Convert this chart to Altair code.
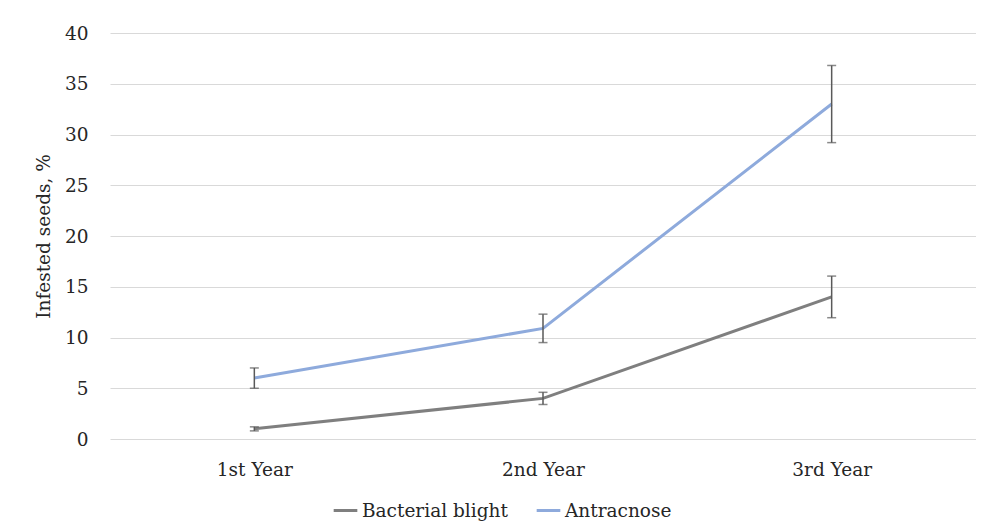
import altair as alt
import pandas as pd

years = ["1st Year", "2nd Year", "3rd Year"]
series = ["Bacterial blight", "Antracnose"]
blight = [1.0, 4.0, 14.0]
blight_err = [0.2, 0.6, 2.05]
antra = [6.0, 10.9, 33.0]
antra_err = [1.0, 1.4, 3.8]

rows = []
for y, v, e in zip(years, blight, blight_err):
    rows.append({"year": y, "series": series[0], "value": v, "lo": v - e, "hi": v + e})
for y, v, e in zip(years, antra, antra_err):
    rows.append({"year": y, "series": series[1], "value": v, "lo": v - e, "hi": v + e})
df = pd.DataFrame(rows)

FONT = "DejaVu Serif"
FS = 18.5

x = alt.X("year:N", sort=years, title=None,
          scale=alt.Scale(type="point", padding=0.5),
          axis=alt.Axis(labelAngle=0, ticks=False, domain=False, grid=False,
                        labelFontSize=FS, labelColor="#262626", labelPadding=21))

lines = alt.Chart(df).mark_line(strokeWidth=3).encode(
    x=x,
    y=alt.Y("value:Q", title="Infested seeds, %",
            scale=alt.Scale(domain=[0, 40]),
            axis=alt.Axis(values=list(range(0, 41, 5)), ticks=False, domain=False,
                          gridColor="#d9d9d9", gridWidth=1,
                          labelFontSize=FS, labelColor="#262626", labelPadding=22,
                          titleFontSize=FS, titleColor="#262626", titleFontWeight="normal",
                          titlePadding=11)),
    color=alt.Color("series:N", sort=series, title=None,
                    scale=alt.Scale(domain=series, range=["#7f7f7f", "#8eaadc"]),
                    legend=alt.Legend(orient="none", direction="horizontal",
                                      legendX=222, legendY=464,
                                      symbolType="stroke", symbolStrokeWidth=3,
                                      symbolSize=560, labelFontSize=FS,
                                      labelColor="#262626", columnPadding=22,
                                      labelOffset=3)),
)

rules = alt.Chart(df).mark_rule(color="#595959", strokeWidth=1.5).encode(
    x=alt.X("year:N", sort=years), y="lo:Q", y2="hi:Q")
tick_lo = alt.Chart(df).mark_tick(color="#595959", size=9, thickness=1.5).encode(
    x=alt.X("year:N", sort=years), y="lo:Q")
tick_hi = alt.Chart(df).mark_tick(color="#595959", size=9, thickness=1.5).encode(
    x=alt.X("year:N", sort=years), y="hi:Q")

chart = alt.layer(lines, rules, tick_lo, tick_hi).properties(
    width=866, height=406,
    autosize=alt.AutoSizeParams(type="none"),
    padding={"left": 102, "top": 25, "right": 0, "bottom": 84},
).configure(font=FONT).configure_view(stroke=None)

chart.save("out.html", embed_options={"renderer": "svg", "actions": False})
